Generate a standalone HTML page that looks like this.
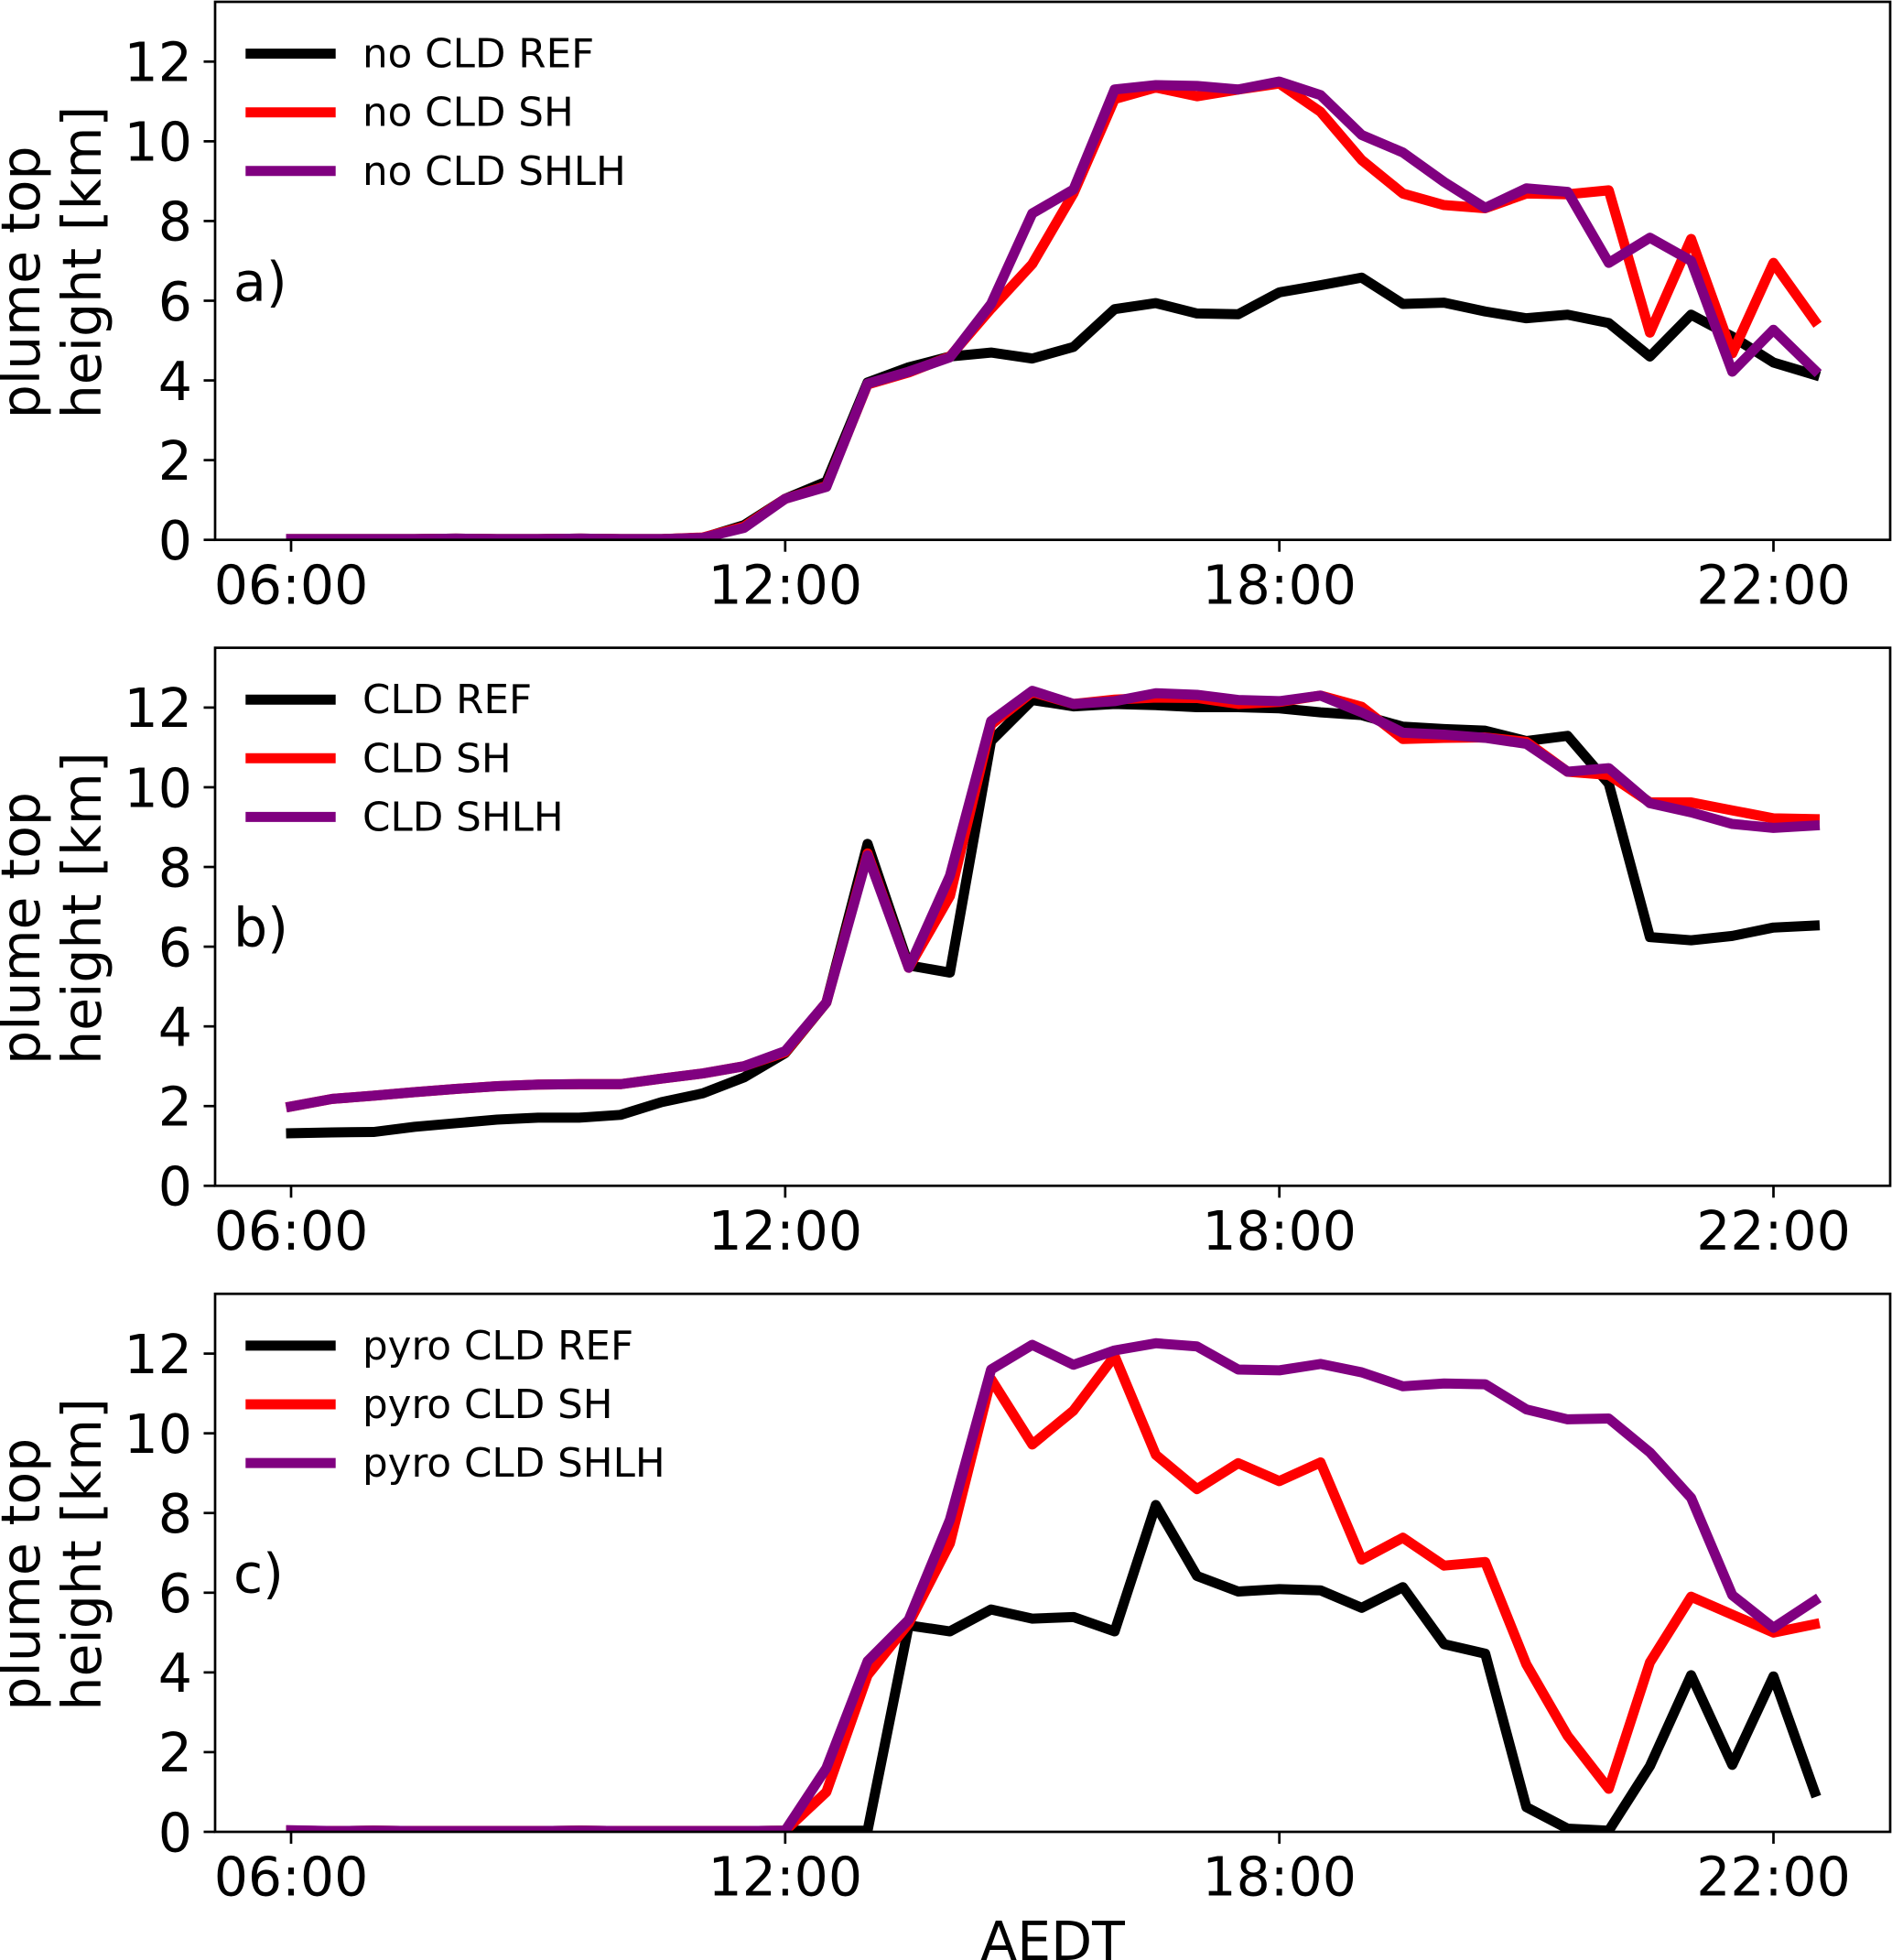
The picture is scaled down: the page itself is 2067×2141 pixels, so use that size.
<!DOCTYPE html>
<html lang="en">
<head>
<meta charset="utf-8">
<title>Plume top height panels</title>
<style>
html,body{margin:0;padding:0;background:#fff;width:2067px;height:2141px;overflow:hidden}
svg{position:absolute;left:0;top:0;display:block}
text{font-family:"DejaVu Sans","Liberation Sans",sans-serif;fill:#000}
</style>
</head>
<body>
<svg id="fig" width="2067" height="2141" viewBox="0 0 2067 2141" xmlns="http://www.w3.org/2000/svg"></svg>
<script>
const xTickSteps = [0, 12, 24, 36];
const xTickLabels = ["06:00", "12:00", "18:00", "22:00"];
const yTickValues = [0, 2, 4, 6, 8, 10, 12];
const yMax = 13.5;
const stepMax = 36;

const panelNames = ["a)", "b)", "c)"];

const legendA = ["no CLD REF", "no CLD SH", "no CLD SHLH"];
const legendB = ["CLD REF", "CLD SH", "CLD SHLH"];
const legendC = ["pyro CLD REF", "pyro CLD SH", "pyro CLD SHLH"];

const aRef = [0.02,0.02,0.02,0.02,0.03,0.02,0.02,0.03,0.02,0.02,0.05,0.37,1.03,1.46,3.95,4.33,4.6,4.7,4.55,4.84,5.79,5.94,5.68,5.66,6.21,6.39,6.58,5.92,5.95,5.73,5.56,5.65,5.44,4.6,5.65,5.1,4.45,4.14];
const aSh = [0.02,0.02,0.02,0.02,0.03,0.02,0.02,0.03,0.02,0.02,0.06,0.33,1.03,1.35,3.9,4.2,4.6,5.8,6.92,8.69,11.06,11.35,11.13,11.3,11.45,10.74,9.53,8.69,8.4,8.32,8.69,8.67,8.77,5.2,7.55,4.68,6.95,5.5];
const aShlh = [0.02,0.02,0.02,0.02,0.03,0.02,0.02,0.03,0.02,0.02,0.05,0.3,1.03,1.33,3.92,4.22,4.58,5.92,8.19,8.79,11.3,11.41,11.39,11.3,11.5,11.16,10.16,9.72,8.98,8.33,8.82,8.73,6.95,7.58,7.0,4.22,5.27,4.26];

const bRef = [1.32,1.34,1.35,1.48,1.57,1.66,1.71,1.71,1.78,2.1,2.32,2.72,3.33,4.6,8.58,5.53,5.35,11.16,12.19,12.03,12.09,12.06,12.01,12.01,11.98,11.88,11.81,11.52,11.46,11.42,11.16,11.29,10.09,6.24,6.16,6.27,6.48,6.53];
const bSh = [1.99,2.18,2.26,2.35,2.43,2.5,2.54,2.55,2.55,2.69,2.82,3.0,3.35,4.6,8.34,5.47,7.27,11.57,12.39,12.09,12.2,12.25,12.24,12.09,12.14,12.3,12.02,11.21,11.24,11.25,11.14,10.39,10.31,9.62,9.62,9.42,9.22,9.2];
const bShlh = [1.99,2.18,2.26,2.35,2.43,2.5,2.54,2.55,2.55,2.69,2.82,3.0,3.38,4.6,8.29,5.47,7.78,11.66,12.42,12.09,12.16,12.36,12.32,12.19,12.16,12.3,11.88,11.37,11.32,11.24,11.09,10.39,10.48,9.6,9.37,9.08,8.98,9.04];

const cRef = [0.03,0.02,0.03,0.02,0.02,0.02,0.02,0.03,0.02,0.02,0.02,0.02,0.03,0.03,0.03,5.18,5.03,5.58,5.35,5.39,5.03,8.2,6.42,6.03,6.09,6.06,5.62,6.14,4.71,4.47,0.62,0.08,0.03,1.65,3.93,1.68,3.9,1.0];
const cSh = [0.03,0.02,0.03,0.02,0.02,0.02,0.02,0.03,0.02,0.02,0.02,0.02,0.03,1.0,3.93,5.23,7.24,11.36,9.72,10.57,11.94,9.46,8.6,9.25,8.8,9.27,6.83,7.38,6.68,6.77,4.2,2.41,1.08,4.25,5.9,5.45,5.0,5.21];
const cShlh = [0.04,0.02,0.03,0.02,0.02,0.02,0.02,0.03,0.02,0.02,0.02,0.02,0.03,1.6,4.28,5.32,7.83,11.6,12.22,11.72,12.08,12.26,12.18,11.6,11.58,11.74,11.53,11.18,11.25,11.23,10.6,10.35,10.37,9.52,8.38,5.94,5.12,5.8];

const NS = "http://www.w3.org/2000/svg";
const fig = document.getElementById("fig");
const AX_L = 235, AX_R = 2065, AX_H = 587.7;
const T0 = 318, STEP_PX = (1937.5 - 318) / stepMax;
const LW = 11, SPINE = 2.7, BIG = 58.5, LEG = 43.6;
const COLORS = ["#000000", "#ff0000", "#800080"];

function xScale(step) { return T0 + step * STEP_PX; }
function yScale(top, v) { return top + AX_H - v / yMax * AX_H; }
function el(tag, parent) {
  const n = document.createElementNS(NS, tag);
  parent.appendChild(n);
  return n;
}
function set(n, props) {
  for (const k in props) n.setAttribute(k, props[k]);
  return n;
}

function drawPanel(p, top, seriesList, legendLabels, key) {
  const g = el("g", fig);
  
  
  const bottom = top + AX_H;

  const clip = el("clipPath", g);
  clip.setAttribute("id", "clip-" + key);
  set(el("rect", clip), {x: AX_L, y: top, width: AX_R - AX_L, height: AX_H});

  const plotArea = el("g", g);
  
  
  plotArea.setAttribute("clip-path", "url(#clip-" + key + ")");

  seriesList.forEach(function (vals, s) {
    const line = el("polyline", plotArea);
    
    
    const pts = vals.map(function (v, i) {
      return xScale(i).toFixed(2) + "," + yScale(top, v).toFixed(2);
    }).join(" ");
    set(line, {points: pts, fill: "none", stroke: COLORS[s], "stroke-width": LW,
      "stroke-linecap": "square", "stroke-linejoin": "round"});
  });

  // frame
  const frame = el("rect", g);
  
  
  set(frame, {x: AX_L, y: top, width: AX_R - AX_L, height: AX_H, fill: "none", stroke: "#000", "stroke-width": SPINE});

  // y ticks
  yTickValues.forEach(function (v) {
    const y = yScale(top, v);
    const t = el("line", g);
    
    
    set(t, {x1: AX_L - 12.5, x2: AX_L, y1: y, y2: y, stroke: "#000", "stroke-width": SPINE});
    const lab = el("text", g);
    
    
    set(lab, {x: 210, y: y + 21.3, "text-anchor": "end", "font-size": BIG});
    lab.textContent = String(v);
  });

  // x ticks
  xTickSteps.forEach(function (step, i) {
    const x = xScale(step);
    const t = el("line", g);
    
    
    set(t, {x1: x, x2: x, y1: bottom, y2: bottom + 13, stroke: "#000", "stroke-width": SPINE});
    const lab = el("text", g);
    
    
    set(lab, {x: x, y: bottom + 69.7, "text-anchor": "middle", "font-size": BIG});
    lab.textContent = xTickLabels[i];
  });

  // y label (two start-aligned rotated lines)
  const ylabelA = el("text", g);
  
  
  set(ylabelA, {transform: "translate(43 " + (top + 455.3) + ") rotate(-90)", "font-size": BIG});
  ylabelA.textContent = "plume top";
  const ylabelB = el("text", g);
  
  
  set(ylabelB, {transform: "translate(110 " + (top + 455.3) + ") rotate(-90)", "font-size": BIG});
  ylabelB.textContent = "height [km]";

  // panel letter
  const letter = el("text", g);
  
  
  set(letter, {x: 255, y: top + 326.4, "font-size": BIG});
  letter.textContent = panelNames[p];

  // legend
  const lg = el("g", g);
  
  
  legendLabels.forEach(function (label, s) {
    const y = top + 56.6 + s * 64.1;
    const sw = el("line", lg);
    
    
    set(sw, {x1: 268.3, x2: 366.7, y1: y, y2: y, stroke: COLORS[s], "stroke-width": LW});
    const tx = el("text", lg);
    
    
    set(tx, {x: 396, y: y + 15, "font-size": LEG});
    tx.textContent = label;
  });
}

drawPanel(0, 2, [aRef, aSh, aShlh], legendA, "a");
drawPanel(1, 707.6, [bRef, bSh, bShlh], legendB, "b");
drawPanel(2, 1413.3, [cRef, cSh, cShlh], legendC, "c");

const xTitle = el("text", fig);


set(xTitle, {x: 1150, y: 2141, "text-anchor": "middle", "font-size": BIG});
xTitle.textContent = "AEDT";
</script>
</body>
</html>
